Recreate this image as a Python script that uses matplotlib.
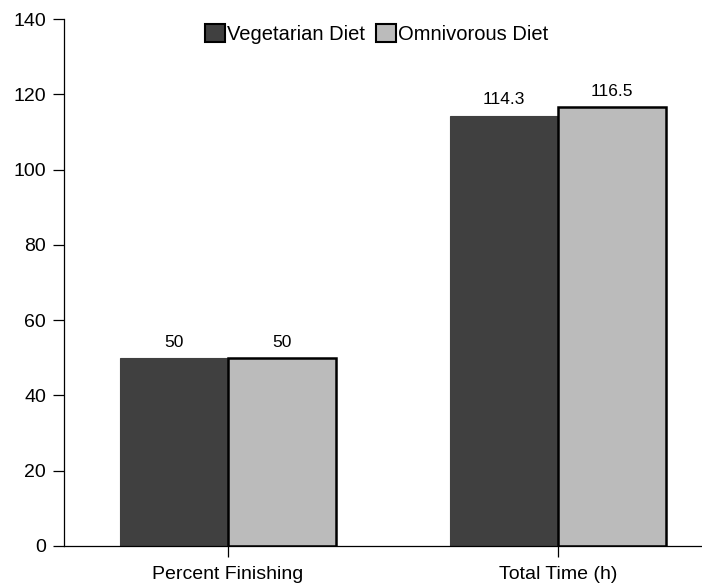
import numpy as np
import matplotlib
matplotlib.use("Agg")
import matplotlib.pyplot as plt

plt.rcParams["font.family"] = ["Liberation Sans", "DejaVu Sans"]

# ── Data ─────────────────────────────────────────────────────────────
CATEGORIES = ["Percent Finishing", "Total Time (h)"]
SERIES = ["Vegetarian Diet", "Omnivorous Diet"]
VEGETARIAN = [50, 114.3]
OMNIVOROUS = [50, 116.5]
VALUE_LABELS = [["50", "114.3"], ["50", "116.5"]]

COLORS = ["#404040", "#bbbbbb"]
EDGES = ["#404040", "black"]

fig = plt.figure(figsize=(7.02, 5.86), dpi=100)
ax = fig.add_axes([64 / 702, 1 - 546 / 586, 1 - 64 / 702, (546 - 19) / 586])

x = np.arange(len(CATEGORIES))
width = 0.326
for i, (vals, name) in enumerate(zip([VEGETARIAN, OMNIVOROUS], SERIES)):
    pos = x + (i - 0.5) * width
    ax.bar(pos, vals, width, color=COLORS[i], edgecolor=EDGES[i],
           linewidth=1.8 if i == 1 else 0.8, label=name, zorder=2)
    for p, v, lab in zip(pos, vals, VALUE_LABELS[i]):
        ax.text(p, v + 2.2, lab, ha="center", va="bottom", fontsize=12.5)

ax.set_xlim(-0.497, 1.436)
ax.set_ylim(0, 140)
ax.set_yticks(np.arange(0, 141, 20))
ax.set_xticks(x)
ax.set_xticklabels(CATEGORIES)
ax.tick_params(axis="both", direction="out", length=8, width=0.9,
               labelsize=14, pad=5)
ax.tick_params(axis="x", pad=6.5)
ax.spines["top"].set_visible(False)
ax.spines["right"].set_visible(False)
for s in ("left", "bottom"):
    ax.spines[s].set_linewidth(0.9)

leg = ax.legend(loc="upper center", bbox_to_anchor=(0.49, 1.025), ncol=2,
                frameon=False, fontsize=14.5, handlelength=1.0,
                handleheight=1.0, handletextpad=0.1, columnspacing=0.5)
for h in leg.legend_handles:
    h.set_edgecolor("black")
    h.set_linewidth(1.5)

fig.savefig("out.png", dpi=100)
